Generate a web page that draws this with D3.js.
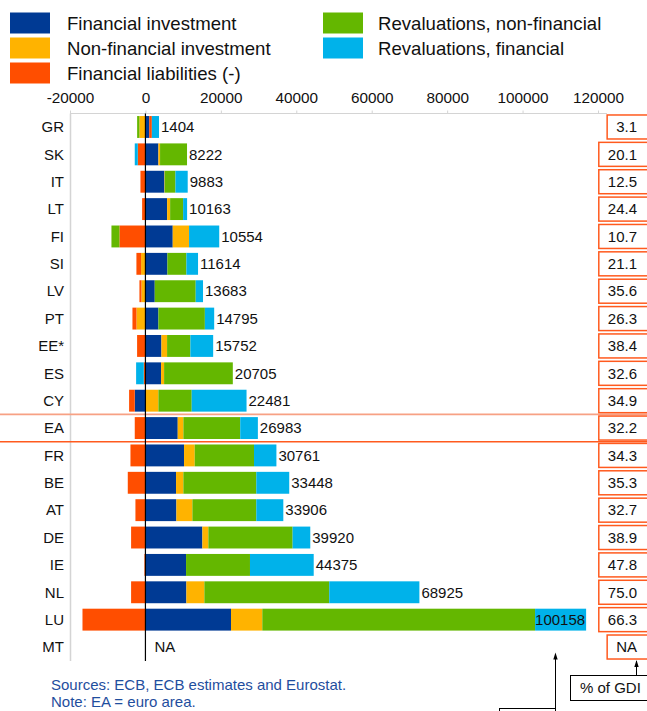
<!DOCTYPE html>
<html>
<head>
<meta charset="utf-8">
<script src="https://cdn.jsdelivr.net/npm/d3@7"></script>
<style>
  html, body { margin: 0; padding: 0; background: #fff; }
  svg { display: block; font-family: "Liberation Sans", Arial, sans-serif; }
</style>
</head>
<body>
<svg id="chart" width="647" height="711"></svg>
<script>
// Change in household net worth by component, per country (EUR, per household)
const categories = ["GR", "SK", "IT", "LT", "FI", "SI", "LV", "PT", "EE*", "ES", "CY", "EA",
                    "FR", "BE", "AT", "DE", "IE", "NL", "LU", "MT"];

const financialInvestment    = [1000, 3440, 5030, 5750, 7240, 5830, 2470, 3440, 4240, 4150, -2830, 8565,
                                 10240, 8120, 8210, 15100, 10770, 10860, 22690, null];
const nonFinancialInvestment = [-1600, 440, 100, 800, 4330, -1150, -1060, -2380, 1500, 800, 3440, 1500,
                                 2830, 1940, 4240, 1590, 0, 4770, 8300, null];
const financialLiabilities   = [700, -2030, -1320, -880, -6890, -1240, -530, -1060, -2210, -440, -1500, -2830,
                                 -3970, -4680, -2650, -3800, -270, -3800, -16690, null];
const revalNonFinancial      = [-600, 7150, 2830, 3440, -2120, 5030, 10860, 12320, 6180, 18220, 8830, 15070,
                                 15720, 19340, 16950, 22340, 16950, 33110, 72320, null];
const revalFinancial         = [1900, -800, 3250, 1060, 8000, 3090, 1940, 2470, 6040, -2030, 14540, 4680,
                                 5940, 8730, 7160, 4680, 16900, 23900, 13540, null];

const totalLabels = ["1404", "8222", "9883", "10163", "10554", "11614", "13683", "14795", "15752", "20705",
                     "22481", "26983", "30761", "33448", "33906", "39920", "44375", "68925", "100158", "NA"];
const gdiShare = ["3.1", "20.1", "12.5", "24.4", "10.7", "21.1", "35.6", "26.3", "38.4", "32.6",
                  "34.9", "32.2", "34.3", "35.3", "32.7", "38.9", "47.8", "75.0", "66.3", "NA"];

const xTicks = [-20000, 0, 20000, 40000, 60000, 80000, 100000, 120000];

const seriesNames = ["Financial investment", "Non-financial investment", "Financial liabilities (-)",
                     "Revaluations, non-financial", "Revaluations, financial"];
const seriesColors = ["#003a94", "#ffb300", "#ff4e00", "#64b700", "#00b2ea"];
const seriesData = [financialInvestment, nonFinancialInvestment, financialLiabilities,
                    revalNonFinancial, revalFinancial];

const svg = d3.select("#chart");

// Scales
const x = d3.scaleLinear().domain([-20000, 120000]).range([70, 598]);
const y = d3.scaleBand().domain(categories).range([113.3, 660.7]).paddingInner(0.2).paddingOuter(0.1);
const plotRight = 607;

// Table for stacking
const rows = categories.map((c, i) => {
  const r = { cat: c };
  seriesNames.forEach((s, k) => { r[s] = seriesData[k][i] || 0; });
  return r;
});
const stack = d3.stack().keys(seriesNames).offset(d3.stackOffsetDiverging);
const layers = stack(rows);

// Legend
const legend = svg.append("g");
const legendPos = [
  { sx: 10, tx: 67, cy: 23 }, { sx: 10, tx: 67, cy: 48 }, { sx: 10, tx: 67, cy: 73 },
  { sx: 323, tx: 378, cy: 23 }, { sx: 323, tx: 378, cy: 48 }
];
seriesNames.forEach((s, k) => {
  const p = legendPos[k];
  legend.append("rect").attr("x", p.sx).attr("y", p.cy - 10.5).attr("width", 40).attr("height", 21)
    .attr("fill", seriesColors[k]);
  legend.append("text").attr("x", p.tx).attr("y", p.cy).attr("dy", "0.35em")
    .attr("font-size", 18.6).attr("fill", "#111").text(s);
});

// Frame
svg.append("line").attr("x1", x(-20000)).attr("x2", plotRight).attr("y1", 113.5).attr("y2", 113.5)
  .attr("stroke", "#d4d4d4").attr("stroke-width", 1.2);
svg.append("line").attr("x1", 70.5).attr("x2", 70.5).attr("y1", 113.5).attr("y2", 661)
  .attr("stroke", "#d4d4d4").attr("stroke-width", 1.5);

// Axis on top
const axis = d3.axisTop(x).tickValues(xTicks).tickFormat(d => String(d)).tickSize(3).tickPadding(8);
const gAxis = svg.append("g").attr("transform", "translate(0,113.5)").call(axis);
gAxis.select(".domain").remove();
gAxis.selectAll(".tick line").attr("stroke", "#d4d4d4");
gAxis.selectAll(".tick text").attr("font-size", 15.3).attr("fill", "#111")
  .attr("font-family", "'Liberation Sans', Arial, sans-serif");

// Euro area separators
const step = y.step();
const eaTop = y("EA") - step * y.paddingInner() / 2;
const eaBottom = y("EA") + y.bandwidth() + step * y.paddingInner() / 2;
svg.append("line").attr("x1", 0).attr("x2", 647).attr("y1", eaTop).attr("y2", eaTop)
  .attr("stroke", "#f7a184").attr("stroke-width", 1.6);
svg.append("line").attr("x1", 0).attr("x2", 647).attr("y1", eaBottom).attr("y2", eaBottom)
  .attr("stroke", "#ff5a1e").attr("stroke-width", 1.4);

// Stacked bars
svg.append("g").selectAll("g").data(layers).join("g")
  .attr("fill", (d, k) => seriesColors[k])
  .selectAll("rect").data(d => d).join("rect")
  .attr("x", d => x(Math.min(d[0], d[1])))
  .attr("width", d => Math.abs(x(d[1]) - x(d[0])))
  .attr("y", d => y(d.data.cat))
  .attr("height", y.bandwidth());

// Category labels
svg.append("g").selectAll("text").data(categories).join("text")
  .attr("x", 64).attr("y", d => y(d) + y.bandwidth() / 2).attr("dy", "0.35em")
  .attr("text-anchor", "end").attr("font-size", 15).attr("fill", "#111").text(d => d);

// Zero line
svg.append("line").attr("x1", x(0)).attr("x2", x(0)).attr("y1", 113.5).attr("y2", 661)
  .attr("stroke", "#000").attr("stroke-width", 1.2);

// Total labels at the end of the positive stack
const valueG = svg.append("g");
categories.forEach((c, i) => {
  const posSum = d3.sum(seriesData, s => Math.max(0, s[i] || 0));
  const t = valueG.append("text")
    .attr("y", y(c) + y.bandwidth() / 2).attr("dy", "0.35em")
    .attr("font-size", 15).attr("fill", "#111").text(totalLabels[i]);
  if (posSum === 0) {
    t.attr("x", x(0) + 9);
  } else {
    const end = x(posSum);
    const w = t.node().getComputedTextLength();
    if (end + 3 + w > x(120000)) {
      t.attr("x", end - 1).attr("text-anchor", "end");
    } else {
      t.attr("x", end + 2);
    }
  }
});

// Share of GDI boxes on the right
const boxG = svg.append("g");
categories.forEach((c, i) => {
  const cy = y(c) + y.bandwidth() / 2;
  const g = boxG.append("g");
  const rect = g.append("rect");
  const t = g.append("text").attr("x", 637).attr("y", cy).attr("dy", "0.35em")
    .attr("text-anchor", "end").attr("font-size", 15).attr("fill", "#111").text(gdiShare[i]);
  const w = t.node().getComputedTextLength();
  rect.attr("x", 637 - w - 9).attr("y", cy - 12).attr("width", w + 30).attr("height", 24)
    .attr("fill", "#fff").attr("stroke", "#ff5a1e").attr("stroke-width", 1.5);
});

// Annotation: % of GDI
const ann = svg.append("g");
ann.append("rect").attr("x", 570.5).attr("y", 675.5).attr("width", 90).attr("height", 25)
  .attr("fill", "#fff").attr("stroke", "#000").attr("stroke-width", 1);
ann.append("text").attr("x", 580).attr("y", 693).attr("font-size", 15).attr("fill", "#111").text("% of GDI");
const mtBottom = y("MT") + y.bandwidth() / 2 + 12;
ann.append("line").attr("x1", 636.5).attr("x2", 636.5).attr("y1", 675.5).attr("y2", mtBottom + 2)
  .attr("stroke", "#000").attr("stroke-width", 1);
ann.append("path").attr("d", `M636.5,${mtBottom + 1} l-2.2,7 l4.4,0 z`).attr("fill", "#000");

// Annotation pointing at the totals
const luBottom = y("LU") + y.bandwidth();
ann.append("rect").attr("x", 499.5).attr("y", 708.5).attr("width", 56).attr("height", 20)
  .attr("fill", "#fff").attr("stroke", "#000").attr("stroke-width", 1);
ann.append("line").attr("x1", 555.5).attr("x2", 555.5).attr("y1", 711).attr("y2", luBottom + 24)
  .attr("stroke", "#000").attr("stroke-width", 1);
ann.append("path").attr("d", `M555.5,${luBottom + 22} l-2.2,7 l4.4,0 z`).attr("fill", "#000");

// Footnotes
svg.append("text").attr("x", 51).attr("y", 690).attr("font-size", 15).attr("fill", "#1f4e9e")
  .text("Sources: ECB, ECB estimates and Eurostat.");
svg.append("text").attr("x", 51).attr("y", 707).attr("font-size", 15).attr("fill", "#1f4e9e")
  .text("Note: EA = euro area.");
</script>
</body>
</html>
